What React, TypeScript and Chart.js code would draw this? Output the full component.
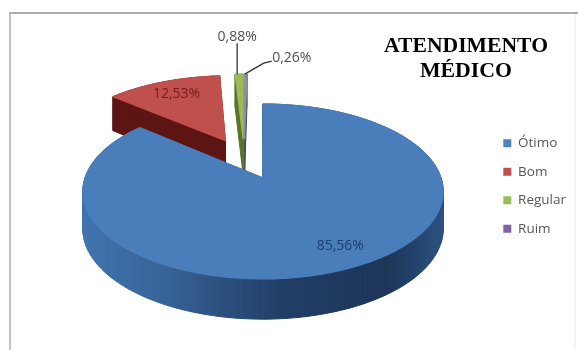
import React, { useEffect, useRef } from "react";
import { Chart, registerables } from "chart.js";

Chart.register(...registerables);

const categories = ["Ótimo", "Bom", "Regular", "Ruim"];
const shares = [85.56, 12.53, 0.88, 0.26];
const shareLabels = ["85,56%", "12,53%", "0,88%", "0,26%"];
const titleLines = ["ATENDIMENTO", "MÉDICO"];

const topColors = ["#4a7ebb", "#c0504d", "#9bbb59", "#8f8fa8"];
const legendColors = ["#4f81bd", "#c0504d", "#9bbb59", "#8064a2"];
const wallColors = ["#2a4d7c", "#5c1513", "#587428", "#4a4a60"];
const labelColors = ["#1f3f6b", "#7a1a18", "#505050", "#505050"];

// Tilted-disk view of the pie: maps flat unit-circle coordinates onto the page.
const VIEW = { x: 263, y: 178, rx: 178, ry: 85.4, tilt: 0.154, depth: 37, depthTilt: 0.08 };

function sliceGeometry(el: any) {
  const p = el.getProps(["startAngle", "endAngle", "outerRadius"]);
  const mid = (p.startAngle + p.endAngle) / 2;
  const off = (el.options.offset || 0) / p.outerRadius;
  return { ...p, mid, off };
}

function makeProjector(anchor: any) {
  const u0 = Math.cos(anchor.mid) * anchor.off;
  const v0 = Math.sin(anchor.mid) * anchor.off;
  return (u: number, v: number, lowered = false) => {
    const du = u - u0;
    const dv = v - v0;
    const d = 1 - VIEW.tilt * dv;
    const drop = lowered ? VIEW.depth / (1 - VIEW.depthTilt * dv) : 0;
    return { x: VIEW.x + (VIEW.rx * du) / d, y: VIEW.y + (VIEW.ry * dv) / d + drop };
  };
}

function outline(g: any) {
  const cx = Math.cos(g.mid) * g.off;
  const cy = Math.sin(g.mid) * g.off;
  const pts = [{ u: cx, v: cy }];
  const n = Math.max(4, Math.ceil((g.endAngle - g.startAngle) * 40));
  for (let i = 0; i <= n; i++) {
    const a = g.startAngle + ((g.endAngle - g.startAngle) * i) / n;
    pts.push({ u: cx + Math.cos(a), v: cy + Math.sin(a) });
  }
  return pts;
}

const tiltedPie = {
  id: "tiltedPie",
  beforeDraw(chart: any) {
    const { ctx } = chart;
    ctx.save();
    ctx.fillStyle = "#ffffff";
    ctx.fillRect(0, 0, chart.width, chart.height);
    // Frame: darker along the top, lighter down the left, almost gone on the right.
    ctx.lineWidth = 2;
    ctx.strokeStyle = "#f3f3f3";
    ctx.beginPath();
    ctx.moveTo(575, 12);
    ctx.lineTo(575, chart.height);
    ctx.stroke();
    ctx.strokeStyle = "#c4c4c4";
    ctx.beginPath();
    ctx.moveTo(10, chart.height);
    ctx.lineTo(10, 12);
    ctx.stroke();
    ctx.strokeStyle = "#adadad";
    ctx.beginPath();
    ctx.moveTo(9, 13);
    ctx.lineTo(578, 13);
    ctx.stroke();
    ctx.restore();
  },
  beforeDatasetDraw(chart: any) {
    const { ctx } = chart;
    const arcs = chart.getDatasetMeta(0).data;
    const project = makeProjector(sliceGeometry(arcs[0]));
    const order = arcs.map((_: any, i: number) => i).reverse();
    for (const i of order) {
      const g = sliceGeometry(arcs[i]);
      const pts = outline(g);
      let wall: any = wallColors[i];
      if (i === 0) {
        wall = ctx.createLinearGradient(VIEW.x - VIEW.rx, 0, VIEW.x + VIEW.rx, 0);
        wall.addColorStop(0, "#3f73ad");
        wall.addColorStop(0.2, "#38659a");
        wall.addColorStop(0.55, "#213e66");
        wall.addColorStop(0.85, "#1c3557");
        wall.addColorStop(1, "#2b4f7f");
      }
      ctx.save();
      ctx.fillStyle = wall;
      ctx.strokeStyle = wall;
      ctx.lineWidth = 1;
      for (let k = 0; k < pts.length; k++) {
        const a = pts[k];
        const b = pts[(k + 1) % pts.length];
        const a1 = project(a.u, a.v);
        const b1 = project(b.u, b.v);
        const a2 = project(a.u, a.v, true);
        const b2 = project(b.u, b.v, true);
        ctx.beginPath();
        ctx.moveTo(a1.x, a1.y);
        ctx.lineTo(b1.x, b1.y);
        ctx.lineTo(b2.x, b2.y);
        ctx.lineTo(a2.x, a2.y);
        ctx.closePath();
        ctx.fill();
        ctx.stroke();
      }
      ctx.fillStyle = topColors[i];
      ctx.strokeStyle = topColors[i];
      ctx.lineWidth = 1.2;
      ctx.lineJoin = "round";
      ctx.beginPath();
      pts.forEach((pt, k) => {
        const q = project(pt.u, pt.v);
        if (k === 0) ctx.moveTo(q.x, q.y);
        else ctx.lineTo(q.x, q.y);
      });
      ctx.closePath();
      ctx.fill();
      ctx.stroke();
      ctx.restore();
    }
    return false;
  },
  afterDatasetsDraw(chart: any) {
    const { ctx } = chart;
    const arcs = chart.getDatasetMeta(0).data;
    const project = makeProjector(sliceGeometry(arcs[0]));
    const rimOf = (g: any, r: number) =>
      project(
        Math.cos(g.mid) * (g.off + r),
        Math.sin(g.mid) * (g.off + r)
      );
    ctx.save();
    ctx.font = "14px 'Open Sans'";
    ctx.textAlign = "center";
    ctx.textBaseline = "middle";

    // Inside labels for the two large slices.
    const inner = rimOf(sliceGeometry(arcs[0]), 0.8);
    ctx.fillStyle = labelColors[0];
    ctx.fillText(shareLabels[0], inner.x + 10, inner.y - 2);
    const red = rimOf(sliceGeometry(arcs[1]), 0.68);
    ctx.fillStyle = labelColors[1];
    ctx.fillText(shareLabels[1], red.x - 5, red.y - 5);

    // Leader lines for the two thin slices.
    const regular = rimOf(sliceGeometry(arcs[2]), 1);
    const ruim = rimOf(sliceGeometry(arcs[3]), 1);
    ctx.strokeStyle = "#333333";
    ctx.lineWidth = 1.3;
    ctx.beginPath();
    ctx.moveTo(regular.x - 2, regular.y);
    ctx.lineTo(regular.x - 2, regular.y - 31);
    ctx.moveTo(ruim.x - 1, ruim.y);
    ctx.lineTo(ruim.x + 18, ruim.y - 11);
    ctx.lineTo(ruim.x + 26, ruim.y - 13);
    ctx.stroke();

    ctx.fillStyle = labelColors[2];
    ctx.fillText(shareLabels[2], regular.x - 2, regular.y - 37);
    ctx.fillStyle = labelColors[3];
    ctx.fillText(shareLabels[3], ruim.x + 46, ruim.y - 16);
    ctx.restore();
  },
  afterLayout(chart: any) {
    // The title block sits in the upper right corner rather than over the plot.
    const t = chart.titleBlock;
    if (t) {
      t.left = 384;
      t.right = 548;
    }
  },
};

export default function App() {
  const ref = useRef<HTMLCanvasElement>(null);

  useEffect(() => {
    document.body.style.margin = "0";
    const chart = new Chart(ref.current as HTMLCanvasElement, {
      type: "pie",
      data: {
        labels: categories,
        datasets: [
          {
            data: shares,
            backgroundColor: legendColors,
            borderWidth: 0,
            hoverOffset: 0,
            offset: (c: any) => (c.chart.chartArea ? c.chart.chartArea.height * 0.115 : 0),
          },
        ],
      },
      options: {
        animation: false,
        responsive: false,
        layout: { padding: { top: 22, right: 2, bottom: 0 } },
        plugins: {
          tooltip: { enabled: false },
          title: {
            display: true,
            text: titleLines,
            color: "#000000",
            font: { family: "'Liberation Serif'", size: 21.8, weight: "bold", lineHeight: 1.15 },
            padding: { top: 12, bottom: 0 },
          },
          legend: {
            display: true,
            position: "right",
            labels: {
              boxWidth: 8,
              boxHeight: 8,
              padding: 15,
              color: "#595959",
              font: { family: "'Open Sans'", size: 13.5 },
            },
          },
        },
      },
      plugins: [tiltedPie],
    } as any);
    return () => chart.destroy();
  }, []);

  return <canvas ref={ref} width={578} height={350} style={{ display: "block" }} />;
}
